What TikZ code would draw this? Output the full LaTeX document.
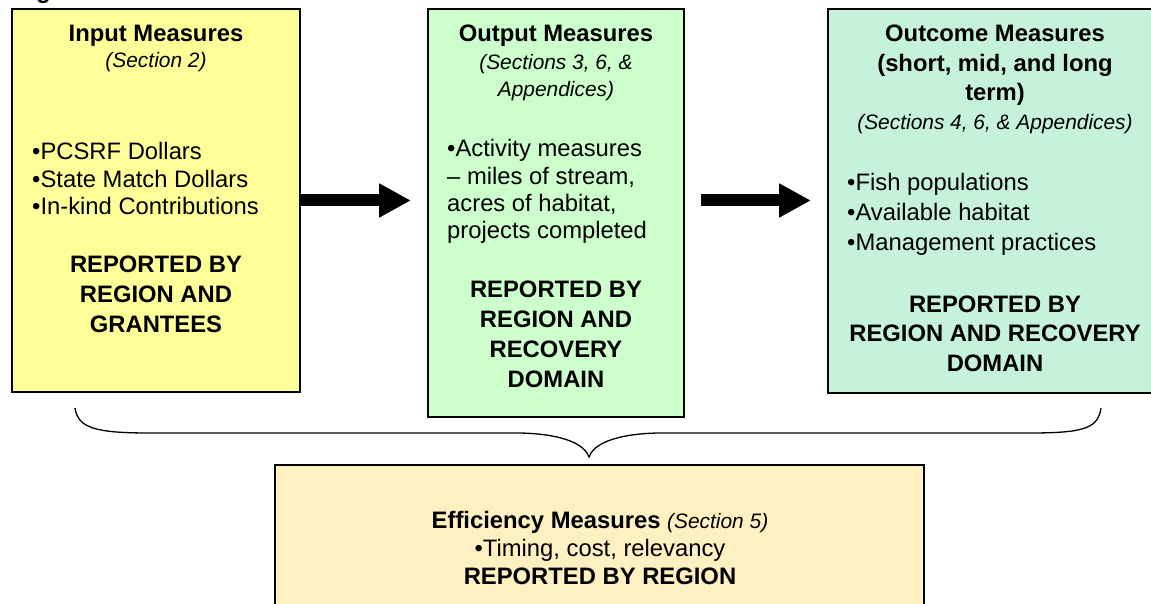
\documentclass[tikz,border=0pt]{standalone}
\usepackage{fontspec}
\setmainfont{Liberation Sans}
\usetikzlibrary{arrows.meta}
\definecolor{inputfill}{HTML}{FFFF99}
\definecolor{outputfill}{HTML}{CCFFCC}
\definecolor{outcomefill}{HTML}{C6F2DB}
\definecolor{efficfill}{HTML}{FFF0C1}
% stacked lines whose first baseline is the node's baseline
\newcommand\linesc[1]{\begin{tabular}[t]{@{}c@{}}#1\end{tabular}}
\newcommand\linesl[1]{\begin{tabular}[t]{@{}l@{}}#1\end{tabular}}
\begin{document}
\begin{tikzpicture}[x=1pt,y=-1pt,
  box/.style={draw=black,line width=2pt,inner sep=0pt},
  ttl/.style={inner sep=0pt,anchor=base,font=\fontsize{23.8}{#1}\selectfont\bfseries},
  ttl/.default=29.5,
  sec/.style={inner sep=0pt,anchor=base,font=\fontsize{20.9}{26.5}\selectfont\itshape},
  lst/.style={inner sep=0pt,anchor=base west,font=\fontsize{23.8}{#1}\selectfont},
  lst/.default=27.5,
  rep/.style={inner sep=0pt,anchor=base,font=\fontsize{23.8}{#1}\selectfont\bfseries},
  rep/.default=30,
  bigarrow/.style={line width=12pt,-{Triangle[length=32pt,width=32pt]}},
]
\useasboundingbox (0,0) rectangle (1151,604);
\fill[white] (0,0) rectangle (1151,604);

% caption line above the boxes (mostly outside the page)
\node[anchor=base west,inner sep=0pt,font=\fontsize{24}{24}\selectfont\bfseries] (caption) at (36,-1) {g};

% the four measure boxes
\node[box,fill=inputfill,minimum width=288pt,minimum height=383pt] (in) at (156,200.5) {};
\node[box,fill=outputfill,minimum width=256pt,minimum height=408pt] (out) at (556,213) {};
\node[box,fill=outcomefill,minimum width=334pt,minimum height=384pt] (oc) at (995,201) {};
\node[box,fill=efficfill,minimum width=649pt,minimum height=170pt] (eff) at (599.5,550) {};

% input measures
\node[ttl] (in-t) at (156,42) {Input Measures};
\node[sec] (in-s) at (156,68) {(Section 2)};
\node[lst] (in-l) at (32,160) {\linesl{•PCSRF Dollars\\•State Match Dollars\\•In-kind Contributions}};
\node[rep] (in-r) at (156,272) {\linesc{REPORTED BY\\REGION AND\\GRANTEES}};

% output measures
\node[ttl] (out-t) at (556,42) {Output Measures};
\node[sec] (out-s) at (556,70) {\linesc{(Sections 3, 6, \&\\Appendices)}};
\node[lst=27.3] (out-l) at (447,157) {\linesl{•Activity measures\\– miles of stream,\\acres of habitat,\\projects completed}};
\node[rep=30.3] (out-r) at (556,297) {\linesc{REPORTED BY\\REGION AND\\RECOVERY\\DOMAIN}};

% outcome measures
\node[ttl] (oc-t) at (995,42) {\linesc{Outcome Measures\\(short, mid, and long\\term)}};
\node[sec] (oc-s) at (995,130) {(Sections 4, 6, \& Appendices)};
\node[lst=29.7] (oc-l) at (847,190.7) {\linesl{•Fish populations\\•Available habitat\\•Management practices}};
\node[rep=29.5] (oc-r) at (995,312) {\linesc{REPORTED BY\\REGION AND RECOVERY\\DOMAIN}};

% efficiency measures
\node[inner sep=0pt,anchor=base,font=\fontsize{23.8}{28}\selectfont] (eff-t) at (600,528)
  {\linesc{\textbf{Efficiency Measures} {\fontsize{20.9}{28}\selectfont\itshape (Section 5)}\\
   •Timing, cost, relevancy\\ \textbf{REPORTED BY REGION}}};

% flow arrows
\draw[bigarrow,shorten >=16pt] (in.east) -- (in.east -| out.west);
\draw[bigarrow,shorten <=16pt,shorten >=16pt] (out.east |- in.east) -- (in.east -| oc.west);

% brace gathering the three boxes into efficiency
\coordinate (brL) at (75,408);
\coordinate (brR) at (1101,408);
\coordinate (brT) at (589,457);
\draw[line width=1.3pt] (brL) .. controls (78,428) and (95,433) .. (150,433) -- (520,433)
  .. controls (565,434) and (585,445) .. (brT)
  .. controls (593,445) and (613,434) .. (658,433) -- (1030,433)
  .. controls (1085,433) and (1098,428) .. (brR);
\end{tikzpicture}
\end{document}
